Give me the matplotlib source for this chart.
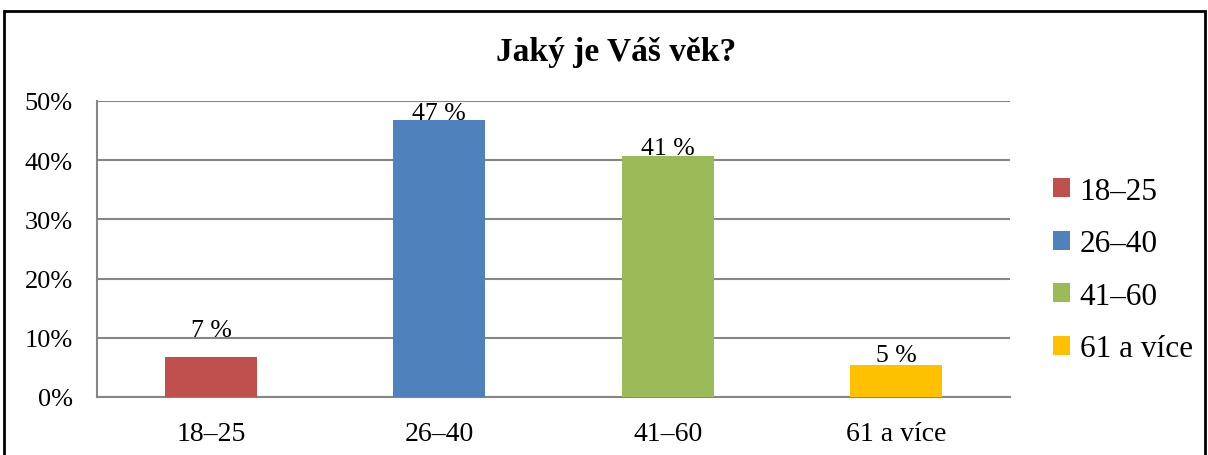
import matplotlib
matplotlib.use("Agg")
import matplotlib.pyplot as plt
from matplotlib.patches import Rectangle, Patch
from matplotlib.ticker import FuncFormatter

categories = ["18–25", "26–40", "41–60", "61 a více"]
values = [6.8, 46.8, 40.7, 5.4]
labels = ["7 %", "47 %", "41 %", "5 %"]
title = "Jaký je Váš věk?"
yticks = [0, 10, 20, 30, 40, 50]

colors = ["#C0504D", "#4F81BD", "#9BBB59", "#FFC000"]
label_offsets = [15, 0.8, 1.4, 3]  # points from bar top to label baseline

plt.rcParams['font.family'] = ['Liberation Serif', 'DejaVu Serif']

W, H = 1208, 456
fig = plt.figure(figsize=(W / 100, H / 100), dpi=100)
ax = fig.add_axes([97 / W, 1 - 398 / H, (1010 - 97) / W, (398 - 102) / H])

x = list(range(len(categories)))
bars = ax.bar(x, values, width=0.403, color=colors, zorder=3)

ax.set_xlim(-0.5, len(categories) - 0.5)
ax.set_ylim(0, 50)
ax.set_yticks(yticks)
ax.yaxis.set_major_formatter(FuncFormatter(lambda v, p: f"{int(v)}%"))
ax.set_xticks(x)
ax.set_xticklabels(categories)
ax.tick_params(axis='y', length=0, labelsize=19, pad=17.5)
ax.tick_params(axis='x', length=0, labelsize=20, pad=17)
ax.grid(axis='y', color='#868686', linewidth=1.5, zorder=0)
for s in ['top', 'right']:
    ax.spines[s].set_visible(False)
for s in ['left', 'bottom']:
    ax.spines[s].set_color('#868686')
    ax.spines[s].set_linewidth(1.5)

for b, lab, off in zip(bars, labels, label_offsets):
    ax.annotate(lab, (b.get_x() + b.get_width() / 2, b.get_height()),
                xytext=(0, off), textcoords='offset points',
                ha='center', va='baseline', fontsize=18.5, zorder=4)

fig.text(616 / W, 1 - 52 / H, title, ha='center', va='center',
         fontsize=24, fontweight='bold')

handles = [Patch(facecolor=c, edgecolor='none') for c in colors]
leg = fig.legend(handles, categories, loc='center left',
                 bbox_to_anchor=(1053 / W, 1 - 271 / H),
                 frameon=False, fontsize=22.5, handlelength=0.55,
                 handleheight=0.55, handletextpad=0.3, labelspacing=0.75,
                 borderpad=0, borderaxespad=0)

fig.patches.append(Rectangle((4 / W, -0.05), (1205 - 4) / W, 1.05 - 12 / H,
                             transform=fig.transFigure, fill=False,
                             edgecolor='black', linewidth=2))

fig.savefig("out.png", dpi=100)
